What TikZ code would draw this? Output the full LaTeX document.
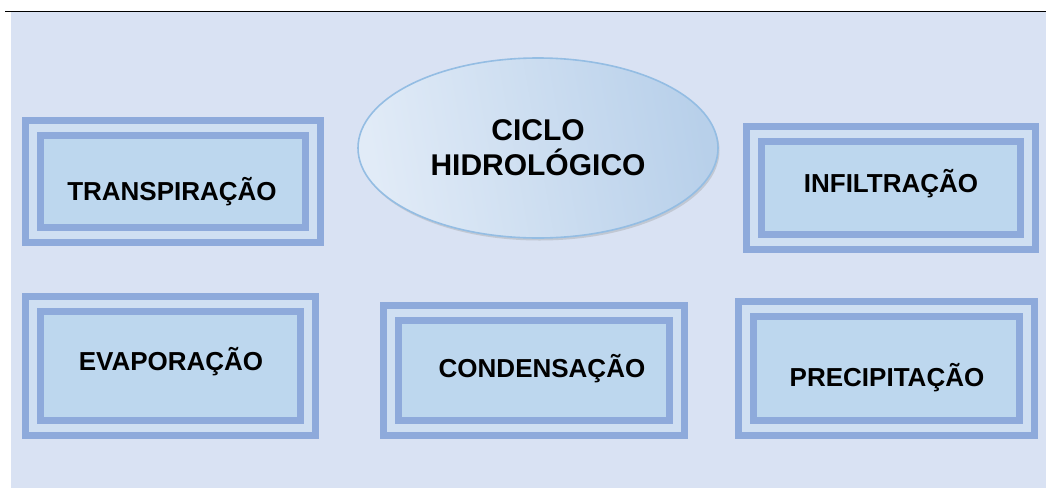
\documentclass[tikz,border=0pt]{standalone}
\usepackage{fontspec}
\setmainfont{Liberation Sans}
\usetikzlibrary{shapes.geometric,shadows}

\definecolor{panelbg}{HTML}{D9E2F3}
\definecolor{bandblue}{HTML}{8EAADB}
\definecolor{bandlight}{HTML}{CFDFF2}
\definecolor{tilefill}{HTML}{BDD7EE}
\definecolor{ovalrim}{HTML}{94BDE3}
\definecolor{ovallight}{HTML}{E1EBF7}
\definecolor{ovaldark}{HTML}{B8D0EA}

\begin{document}
\begin{tikzpicture}[x=1pt, y=-1pt,
    tile/.style={rectangle, inner sep=0pt, fill=tilefill, draw=bandblue,
      line width=7.3pt, double=bandlight, double distance=7.3pt},
    tile text/.style={anchor=base, font=\fontsize{26}{31}\selectfont\bfseries},
    oval/.style={ellipse, inner sep=0pt, minimum width=360pt, minimum height=180pt,
      draw=ovalrim, line width=1.6pt, left color=ovallight, right color=ovaldark,
      shading angle=100, align=center,
      drop shadow={shadow xshift=1.5pt, shadow yshift=-2.5pt, fill=black!45, opacity=0.3},
      font=\fontsize{30}{35}\selectfont\bfseries}]

  \useasboundingbox (0,0) rectangle (1046,488);

  % ===== Page rule and panel =====
  \fill[panelbg] (11,12) rectangle (1046,488);
  \draw[line width=1pt] (5,11) -- (1046,11);

  % ===== Central oval =====
  \node[oval] (ciclo) at (538,148) {CICLO\\HIDROLÓGICO};

  % ===== Top row =====
  \node[tile, minimum width=280pt, minimum height=107pt] (transp) at (173,181.5) {};
  \node[tile text] (transp text) at (172,200) {TRANSPIRAÇÃO};

  \node[tile, minimum width=274pt, minimum height=108pt] (infil) at (891,188) {};
  \node[tile text] (infil text) at (891,192) {INFILTRAÇÃO};

  % ===== Bottom row =====
  \node[tile, minimum width=275pt, minimum height=124pt] (evap) at (170.5,366) {};
  \node[tile text] (evap text) at (171,370) {EVAPORAÇÃO};

  \node[tile, minimum width=286pt, minimum height=115pt] (cond) at (534,370.5) {};
  \node[tile text] (cond text) at (542,377) {CONDENSAÇÃO};

  \node[tile, minimum width=281pt, minimum height=119pt] (precip) at (886.5,368.5) {};
  \node[tile text] (precip text) at (887,386) {PRECIPITAÇÃO};

\end{tikzpicture}
\end{document}
